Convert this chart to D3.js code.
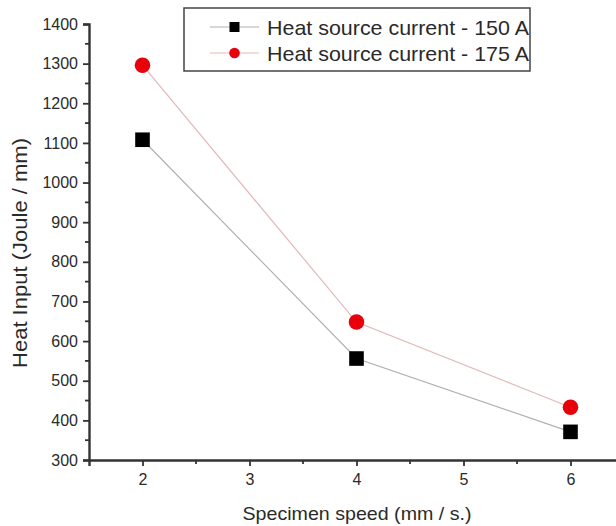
<!DOCTYPE html>
<html><head><meta charset="utf-8">
<script src="https://cdn.jsdelivr.net/npm/d3@7"></script>
<style>body{margin:0;background:#fff}svg{display:block}text{font-family:"Liberation Sans",Arial,sans-serif;fill:#2a2a2a}</style>
</head><body>
<script>
const speeds = [2, 4, 6];
const heat150 = [1108, 556, 371];
const heat175 = [1296, 648, 433];
const seriesNames = ["Heat source current - 150 A", "Heat source current - 175 A"];
const xTicks = [2, 3, 4, 5, 6];
const yTicks = [300, 400, 500, 600, 700, 800, 900, 1000, 1100, 1200, 1300, 1400];

const W = 616, H = 526;
const svg = d3.select("body").append("svg").attr("width", W).attr("height", H);
const x = d3.scaleLinear().domain([1.5, 6.5]).range([89, 624]);
const y = d3.scaleLinear().domain([300, 1400]).range([460, 24]);

// minor ticks
const g = svg.append("g");
const yMinor = d3.range(350, 1400, 100);
const xMinor = [2.5, 3.5, 4.5, 5.5];
g.selectAll(".ym").data(yMinor).join("line")
  .attr("x1", 89).attr("x2", 85).attr("y1", d => y(d)).attr("y2", d => y(d))
  .attr("stroke", "#333").attr("stroke-width", 1.8);
g.selectAll(".xm").data(xMinor).join("line")
  .attr("y1", 460).attr("y2", 464).attr("x1", d => x(d)).attr("x2", d => x(d))
  .attr("stroke", "#333").attr("stroke-width", 1.8);

const fmt = d3.format("d");
const yAxis = svg.append("g").attr("transform", "translate(89,0)")
  .call(d3.axisLeft(y).tickValues(yTicks).tickFormat(fmt).tickSize(6).tickPadding(5));
const xAxis = svg.append("g").attr("transform", "translate(0,460)")
  .call(d3.axisBottom(x).tickValues(xTicks).tickFormat(fmt).tickSize(6).tickPadding(8));
[yAxis, xAxis].forEach(a => {
  a.attr("font-size", 16);
  a.select(".domain").attr("stroke", "#333").attr("stroke-width", 2.4);
  a.selectAll(".tick line").attr("stroke", "#333").attr("stroke-width", 1.8);
  a.selectAll(".tick text").attr("font-size", 16).attr("fill", "#2a2a2a");
});

// titles
svg.append("text").attr("x", 357).attr("y", 520).attr("text-anchor", "middle")
  .style("font-size", "19px").attr("textLength", 229).attr("lengthAdjust", "spacingAndGlyphs")
  .text("Specimen speed (mm / s.)");
svg.append("text").attr("transform", "translate(27,253) rotate(-90)").attr("text-anchor", "middle")
  .style("font-size", "19.5px").attr("textLength", 230).attr("lengthAdjust", "spacingAndGlyphs")
  .text("Heat Input (Joule / mm)");

// lines
const line = d3.line().x((d, i) => x(speeds[i])).y(d => y(d));
svg.append("path").datum(heat150).attr("d", line).attr("fill", "none").attr("stroke", "#b0b0b0").attr("stroke-width", 1.2);
svg.append("path").datum(heat175).attr("d", line).attr("fill", "none").attr("stroke", "#e3b8b8").attr("stroke-width", 1.2);

// markers
svg.selectAll(".sq").data(heat150).join("rect")
  .attr("x", (d, i) => x(speeds[i]) - 7.3).attr("y", d => y(d) - 7.3)
  .attr("width", 14.6).attr("height", 14.6).attr("fill", "#000");
svg.selectAll(".ci").data(heat175).join("circle")
  .attr("cx", (d, i) => x(speeds[i])).attr("cy", d => y(d)).attr("r", 7.8)
  .attr("fill", "#e8000b");

// legend
const lg = svg.append("g");
lg.append("rect").attr("x", 184).attr("y", 8).attr("width", 346).attr("height", 63)
  .attr("fill", "#fff").attr("stroke", "#444").attr("stroke-width", 1.5);
const ly = [27, 53];
lg.append("line").attr("x1", 210).attr("x2", 259).attr("y1", ly[0]).attr("y2", ly[0]).attr("stroke", "#b0b0b0").attr("stroke-width", 1.2);
lg.append("rect").attr("x", 229.5).attr("y", ly[0] - 5).attr("width", 10).attr("height", 10).attr("fill", "#000");
lg.append("line").attr("x1", 210).attr("x2", 259).attr("y1", ly[1]).attr("y2", ly[1]).attr("stroke", "#e3b8b8").attr("stroke-width", 1.2);
lg.append("circle").attr("cx", 234.5).attr("cy", ly[1]).attr("r", 5.3).attr("fill", "#e8000b");
lg.selectAll(".lt").data(seriesNames).join("text")
  .attr("x", 267).attr("y", (d, i) => ly[i] + 7.5).style("font-size", "21px")
  .attr("textLength", 262).attr("lengthAdjust", "spacingAndGlyphs").text(d => d);
</script>
</body></html>
